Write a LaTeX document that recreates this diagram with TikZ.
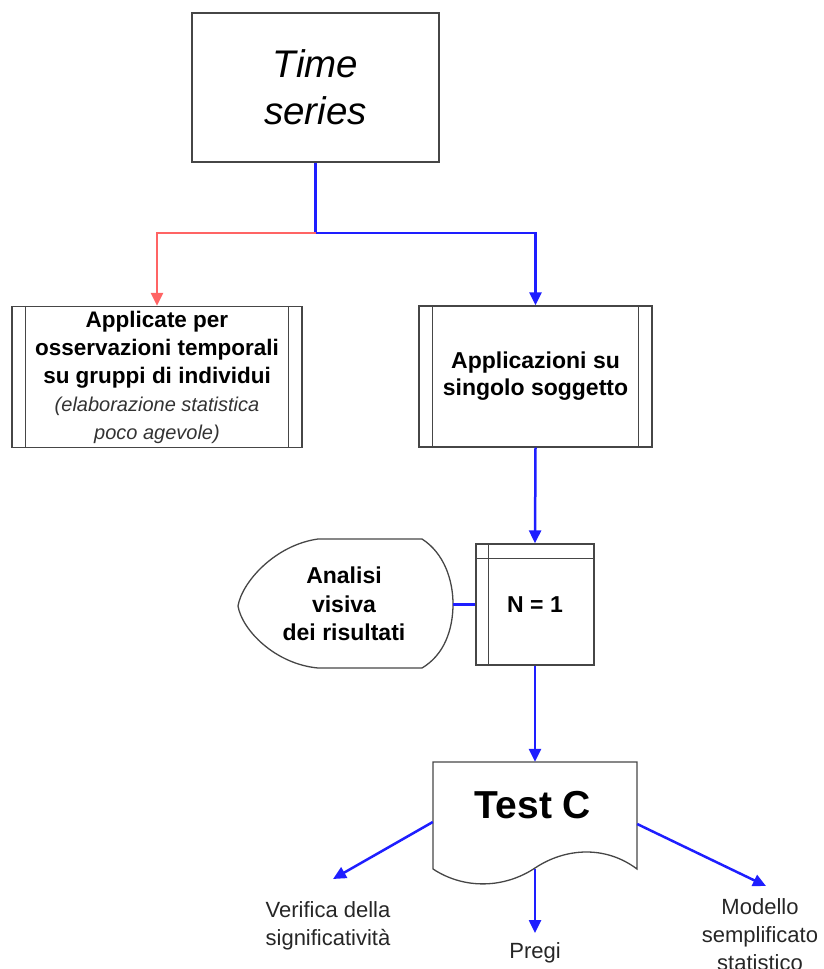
\documentclass[tikz,border=0pt]{standalone}
\usepackage{fontspec}
\setmainfont{Liberation Sans}
\usetikzlibrary{arrows.meta,calc}
\definecolor{cblue}{RGB}{30,30,255}
\definecolor{cred}{RGB}{255,100,100}
\definecolor{cborder}{RGB}{70,70,70}
\newcommand{\bigbold}{\fontsize{22.5}{28}\selectfont\bfseries}
\newcommand{\smallital}{\fontsize{20}{23}\selectfont\mdseries\itshape\color{black!80}}
\tikzset{
  boxline/.style={draw=cborder,line width=1.3pt},
  plainbox/.style={boxline,rectangle,inner sep=0pt},
  conn/.style={draw=cblue,line width=2.5pt},
  connarrow/.style={conn,-{Triangle[length=13pt,width=12pt]}},
  redarrow/.style={draw=cred,line width=2.5pt,-{Triangle[length=13pt,width=12pt]}},
  boldtxt/.style={font=\fontsize{23}{27}\selectfont\bfseries,align=center},
  lbl/.style={font=\fontsize{22}{28}\selectfont,align=center,text=black!85},
}
\begin{document}
\begin{tikzpicture}[x=1pt,y=-1pt]
\useasboundingbox (0,0) rectangle (824,969);

% Time series
\node[plainbox,minimum width=247pt,minimum height=149pt,
      font=\fontsize{38.5}{47}\selectfont\itshape,align=center] (time) at (315.5,87.5) {Time\\series};

% Left box
\node[plainbox,minimum width=290pt,minimum height=141pt,align=center,font=\bigbold] (lbox) at (157,377) {Applicate per\\osservazioni temporali\\su gruppi di individui\\\smallital (elaborazione statistica\\\smallital poco agevole)};
\draw[boxline] ([xshift=14pt]lbox.north west) -- ([xshift=14pt]lbox.south west);
\draw[boxline] ([xshift=-14pt]lbox.north east) -- ([xshift=-14pt]lbox.south east);

% Right box
\node[plainbox,minimum width=233pt,minimum height=141pt,boldtxt] (rbox) at (535.5,376.5) {Applicazioni su\\singolo soggetto};
\draw[boxline] ([xshift=14pt]rbox.north west) -- ([xshift=14pt]rbox.south west);
\draw[boxline] ([xshift=-14pt]rbox.north east) -- ([xshift=-14pt]rbox.south east);

% N = 1
\node[plainbox,minimum width=118pt,minimum height=121pt] (n1) at (535,604.5) {};
\node[boldtxt] (n1t) at (535,604.5) {N = 1};
\draw[boxline] ([xshift=13pt]n1.north west) -- ([xshift=13pt]n1.south west);
\draw[boxline] ([yshift=-15pt]n1.north west) -- ([yshift=-15pt]n1.north east);

% Display shape
\draw[boxline] (318,539) -- (422,539)
  .. controls (444,553) and (453,580) .. (453,604)
  .. controls (453,630) and (444,655) .. (422,668)
  -- (318,668)
  .. controls (275,664) and (242,630) .. (238,606)
  .. controls (242,582) and (275,545) .. (318,539) -- cycle;
\coordinate (anaR) at (453,604.5);
\node[boldtxt,font=\fontsize{23}{28.5}\selectfont\bfseries] (ana) at (344,604) {Analisi\\visiva\\dei risultati};

% Test C document
\node[minimum width=204pt,minimum height=107pt,inner sep=0pt] (test) at (535,815.5) {};
\draw[boxline] (433,869) -- (433,762) -- (637,762) -- (637,869)
  .. controls (605,845) and (565,848) .. (535,868)
  .. controls (505,888) and (465,890) .. (433,869);
\node[font=\fontsize{39}{45}\selectfont\bfseries] (testt) at (533,805) {Test C};

% Labels
\node[lbl] (verif) at (328,926) {Verifica della\\significatività};
\node[lbl] (pregi) at (535,953) {Pregi};
\node[lbl] (model) at (760,935) {Modello\\semplificato\\statistico};

% Connectors
\coordinate (j) at (315.5,233);
\draw[conn] (time.south) -- (j);
\draw[redarrow] (j) -| (lbox.north);
\draw[connarrow] (j) -| (rbox.north);
\draw[connarrow] (rbox.south) -- (n1.north);
\draw[conn] (anaR) -- (n1.west);
\draw[connarrow] (n1.south) -- (test.north);
\coordinate (vtip) at (333,879);
\coordinate (mtip) at (766,886);
\coordinate (ptip) at (535,933);
\draw[connarrow] ([yshift=-6.5pt]test.west) -- (vtip);
\draw[connarrow] ([yshift=-8.5pt]test.east) -- (mtip);
\draw[connarrow] (test.south) -- (ptip);
\end{tikzpicture}
\end{document}
